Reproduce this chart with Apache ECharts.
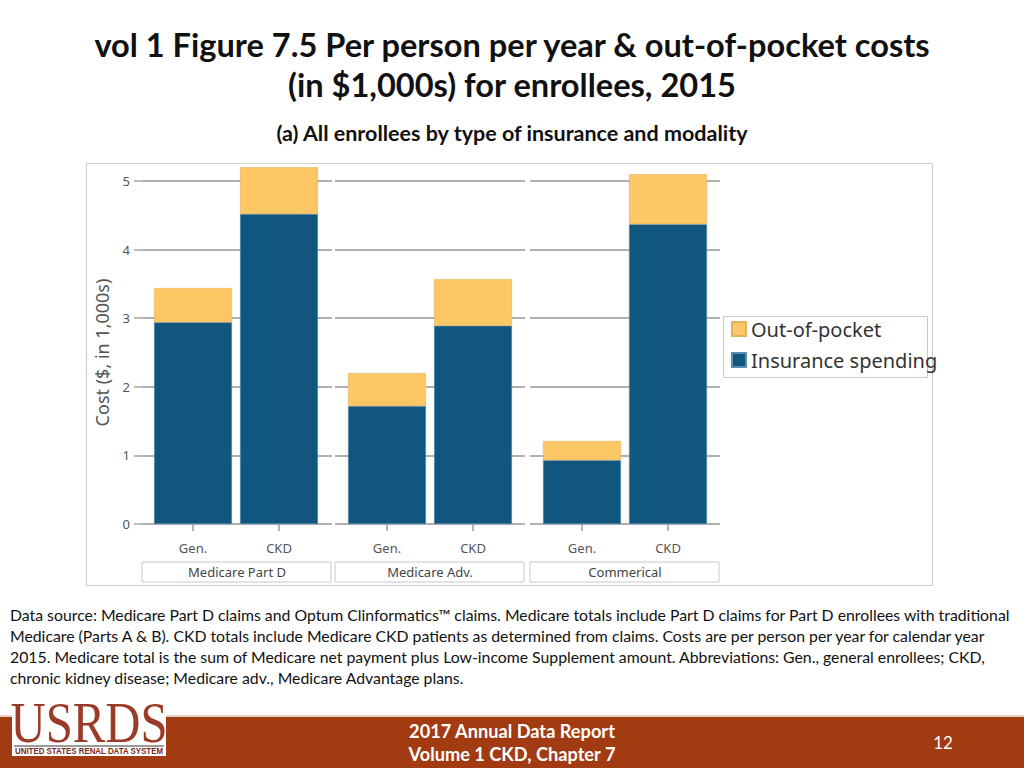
<!DOCTYPE html>
<html>
<head>
<meta charset="utf-8">
<script src="https://cdn.jsdelivr.net/npm/echarts@6/dist/echarts.min.js"></script>
<style>
html,body{margin:0;padding:0;background:#fff;}
#chart{width:1024px;height:768px;}
</style>
</head>
<body>
<div id="chart"></div>
<script>
// ---- data ----
var categories = ['Gen.', 'CKD'];
var groups = ['Medicare Part D', 'Medicare Adv.', 'Commerical'];
var insuranceSpending = [[2.94, 4.52], [1.72, 2.89], [0.93, 4.37]];
var outOfPocket = [[0.50, 0.68], [0.48, 0.68], [0.28, 0.73]];
var yTicks = [0, 1, 2, 3, 4, 5];
var seriesNames = ['Out-of-pocket', 'Insurance spending'];
var titleLines = ['vol 1 Figure 7.5 Per person per year & out-of-pocket costs', '(in $1,000s) for enrollees, 2015'];
var subtitle = '(a) All enrollees by type of insurance and modality';
var yAxisTitle = 'Cost ($, in 1,000s)';
var footnoteLines = [
  'Data source: Medicare Part D claims and Optum Clinformatics\u2122 claims. Medicare totals include Part D claims for Part D enrollees with traditional',
  'Medicare (Parts A & B). CKD totals include Medicare CKD patients as determined from claims. Costs are per person per year for calendar year',
  '2015. Medicare total is the sum of Medicare net payment plus Low-income Supplement amount. Abbreviations: Gen., general enrollees; CKD,',
  'chronic kidney disease; Medicare adv., Medicare Advantage plans.'
];
var footerLines = ['2017 Annual Data Report', 'Volume 1 CKD, Chapter 7'];
var pageNumber = '12';

// ---- styles / layout ----
var BLUE = '#11567F', ORANGE = '#FDC766';
var FONT = '"Noto Sans", "Open Sans", sans-serif';
var TFONT = 'Lato, "Noto Sans", sans-serif';
var plotTop = 181, plotBottom = 768 - 524;
var wideLeft = [142, 335, 530], wideWidth = 190;
var barLeft = [150, 344, 539], barWidth = 172;

var grids = [], xAxes = [], yAxes = [], series = [], graphics = [];
var yMin = yTicks[0], yMax = yTicks[yTicks.length - 1];

for (var p = 0; p < groups.length; p++) {
  grids.push({left: wideLeft[p], width: wideWidth, top: plotTop, bottom: plotBottom});
  grids.push({left: barLeft[p], width: barWidth, top: plotTop, bottom: plotBottom});
  var gW = 2 * p, gB = 2 * p + 1;
  xAxes.push({gridIndex: gW, type: 'category', data: categories, show: false});
  yAxes.push({
    gridIndex: gW, type: 'value', min: yMin, max: yMax, interval: 1,
    axisLine: {show: false},
    axisTick: {show: p === 0, length: 8, lineStyle: {color: '#a6a6a6', width: 1.5}},
    axisLabel: {show: p === 0, margin: 12, color: '#555', fontSize: 13, fontFamily: FONT},
    splitLine: {show: true, lineStyle: {color: '#b0b0b0', width: 2}},
    name: p === 0 ? yAxisTitle : '',
    nameLocation: 'middle', nameRotate: 90, nameGap: 31,
    nameTextStyle: {color: '#555', fontSize: 18, fontFamily: FONT}
  });
  xAxes.push({
    gridIndex: gB, type: 'category', data: categories,
    axisLine: {show: false},
    axisTick: {show: true, alignWithLabel: true, length: 7, lineStyle: {color: '#999', width: 1.5}},
    axisLabel: {margin: 17, color: '#555', fontSize: 13, fontFamily: FONT}
  });
  yAxes.push({gridIndex: gB, type: 'value', min: yMin, max: yMax, interval: 1, show: false, splitLine: {show: false}});

  series.push({
    name: seriesNames[1], type: 'bar', stack: 's' + p, xAxisIndex: gB, yAxisIndex: gB,
    data: insuranceSpending[p], barWidth: 78, clip: false, z: 3,
    itemStyle: {color: BLUE, borderColor: '#5d8fb0', borderWidth: 0.6}
  });
  series.push({
    name: seriesNames[0], type: 'bar', stack: 's' + p, xAxisIndex: gB, yAxisIndex: gB,
    data: outOfPocket[p], barWidth: 78, clip: false, z: 3,
    itemStyle: {color: ORANGE, borderColor: '#e2b25c', borderWidth: 0.6}
  });

  graphics.push({type: 'rect', shape: {x: wideLeft[p], y: 562, width: wideWidth - 1, height: 20},
    style: {fill: '#fff', stroke: '#c8c8c8', lineWidth: 1}});
  graphics.push({type: 'text', x: wideLeft[p] + wideWidth / 2, y: 572,
    style: {text: groups[p], fill: '#444', font: '13px ' + FONT, textAlign: 'center', textVerticalAlign: 'middle'}});
}

graphics.unshift({type: 'rect', shape: {x: 86.5, y: 163.5, width: 846, height: 422},
  style: {fill: 'none', stroke: '#cfcfcf', lineWidth: 1.2}, z: -1});
graphics.push({type: 'rect', shape: {x: 723.5, y: 316.5, width: 204, height: 61},
  style: {fill: '#fff', stroke: '#c8c8c8', lineWidth: 1}, z: -1});

// titles
graphics.push({type: 'text', x: 512, y: 44, style: {text: titleLines[0], fill: '#111', font: 'bold 32.6px ' + TFONT, textAlign: 'center', textVerticalAlign: 'middle'}});
graphics.push({type: 'text', x: 512, y: 84, style: {text: titleLines[1], fill: '#111', font: 'bold 32.6px ' + TFONT, textAlign: 'center', textVerticalAlign: 'middle'}});
graphics.push({type: 'text', x: 512, y: 133, style: {text: subtitle, fill: '#111', font: 'bold 21.5px ' + TFONT, textAlign: 'center', textVerticalAlign: 'middle'}});

// footnote
for (var i = 0; i < footnoteLines.length; i++) {
  graphics.push({type: 'text', x: 10, y: 614 + i * 21, style: {text: footnoteLines[i], fill: '#111', font: '15.8px ' + TFONT, textAlign: 'left', textVerticalAlign: 'middle'}});
}

// footer
graphics.push({type: 'rect', shape: {x: 0, y: 717, width: 1024, height: 51}, style: {fill: '#A33B12'}});
graphics.push({type: 'rect', shape: {x: 0, y: 715, width: 1024, height: 2}, style: {fill: '#e8d3c8'}});
graphics.push({type: 'text', x: 512, y: 731, style: {text: footerLines[0], fill: '#fff', font: 'bold 18.2px ' + TFONT, textAlign: 'center', textVerticalAlign: 'middle'}});
graphics.push({type: 'text', x: 512, y: 754, style: {text: footerLines[1], fill: '#fff', font: 'bold 18.2px ' + TFONT, textAlign: 'center', textVerticalAlign: 'middle'}});
graphics.push({type: 'text', x: 943, y: 742, style: {text: pageNumber, fill: '#fff', font: '17px ' + TFONT, textAlign: 'center', textVerticalAlign: 'middle'}});

// logo
graphics.push({type: 'rect', shape: {x: 12, y: 702, width: 154, height: 54}, style: {fill: '#fff'}});
graphics.push({type: 'text', x: 89, y: 723, scaleX: 0.84, originX: 0, originY: 0,
  style: {text: 'USRDS', fill: '#9B3A27', font: '58px "Liberation Serif", serif', textAlign: 'center', textVerticalAlign: 'middle'}});
graphics.push({type: 'rect', shape: {x: 14, y: 745, width: 150, height: 2}, style: {fill: '#9a9a9a'}});
graphics.push({type: 'text', x: 89, y: 751, scaleX: 0.93, originX: 0, originY: 0,
  style: {text: 'UNITED STATES RENAL DATA SYSTEM', fill: '#7a2a1a', font: 'bold 8.5px "Liberation Sans", sans-serif', textAlign: 'center', textVerticalAlign: 'middle'}});

var chart = echarts.init(document.getElementById('chart'), null, {renderer: 'svg'});
chart.setOption({
  animation: false,
  backgroundColor: '#fff',
  grid: grids,
  xAxis: xAxes,
  yAxis: yAxes,
  series: series,
  legend: {
    data: seriesNames, orient: 'vertical', left: 731, top: 319, itemWidth: 14, itemHeight: 14,
    itemGap: 11, icon: 'rect', padding: 0, selectedMode: false,
    textStyle: {color: '#333', fontSize: 20, fontFamily: FONT}
  },
  graphic: graphics
});
</script>
</body>
</html>
